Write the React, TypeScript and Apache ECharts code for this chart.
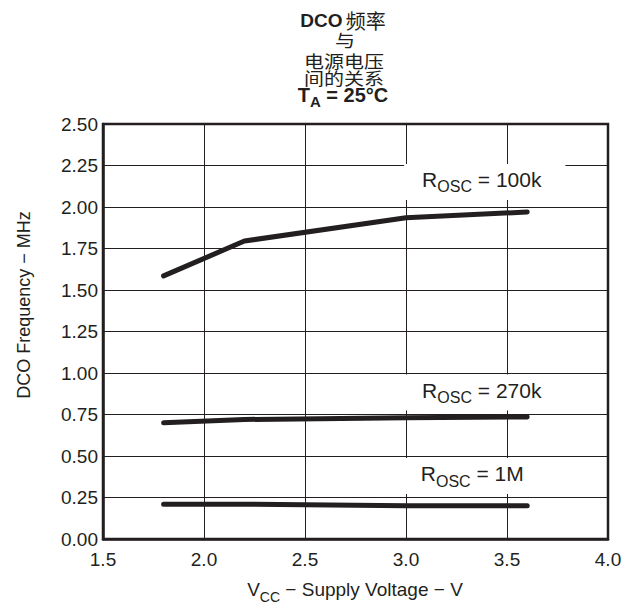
import React, { useEffect, useRef } from "react";
import * as echarts from "echarts";

const xTicks = [1.5, 2.0, 2.5, 3.0, 3.5, 4.0];
const yTicks = [0, 0.25, 0.5, 0.75, 1.0, 1.25, 1.5, 1.75, 2.0, 2.25, 2.5];

const vcc = [1.8, 2.2, 3.0, 3.6];
const freq100k = [1.585, 1.795, 1.935, 1.97];
const freq270k = [0.7, 0.72, 0.73, 0.735];
const freq1M = [0.21, 0.21, 0.2, 0.2];

const seriesNames = ["100k", "270k", "1M"];
const labelAnchors = [
  [3.39, 2.151],
  [3.39, 0.8825],
  [3.39, 0.3795],
];
const labelPaddings = [
  [5, 24, 5, 18],
  [5, 24, 5, 18],
  [5, 43, 5, 18],
];

const INK = "#231f20";
const SANS = "'Liberation Sans', Arial, Helvetica, sans-serif";
const CJK = "'Noto Sans CJK SC', sans-serif";

const richSub = {
  r: { fontSize: 21, lineHeight: 26, verticalAlign: "top", fontFamily: SANS, color: INK },
  s: { fontSize: 16, lineHeight: 16, verticalAlign: "bottom", fontFamily: SANS, color: INK },
};

function makeSeries(name: string, values: number[], anchor: number[], padding: number[]) {
  return {
    type: "line",
    name,
    data: vcc.map((v, i) => [v, values[i]]),
    symbol: "none",
    lineStyle: { color: INK, width: 5, cap: "round", join: "round" },
    z: 3,
    markPoint: {
      symbol: "circle",
      symbolSize: 1,
      itemStyle: { color: "rgba(0,0,0,0)" },
      z: 4,
      data: [
        {
          coord: anchor,
          label: {
            show: true,
            position: "inside",
            formatter: `{r|R}{s|OSC}{r| = ${name}}`,
            backgroundColor: "#ffffff",
            padding,
            rich: richSub,
          },
        },
      ],
    },
  };
}

export default function App() {
  const ref = useRef<HTMLDivElement>(null);
  useEffect(() => {
    if (!ref.current) return;
    const chart = echarts.init(ref.current, null, { renderer: "svg" });
    const seriesData = [freq100k, freq270k, freq1M];
    chart.setOption({
      animation: false,
      backgroundColor: "#ffffff",
      grid: {
        left: 103,
        right: 17,
        top: 124,
        bottom: 66,
        show: true,
        borderColor: INK,
        borderWidth: 2.5,
        backgroundColor: "transparent",
      },
      xAxis: {
        type: "value",
        min: xTicks[0],
        max: xTicks[xTicks.length - 1],
        interval: 0.5,
        axisLine: { show: true, lineStyle: { color: INK, width: 2.5 } },
        axisTick: { show: false },
        axisLabel: {
          fontSize: 19,
          fontFamily: SANS,
          color: INK,
          margin: 11,
          formatter: (v: number) => v.toFixed(1),
        },
        splitLine: { show: true, lineStyle: { color: INK, width: 1 } },
      },
      yAxis: {
        type: "value",
        min: yTicks[0],
        max: yTicks[yTicks.length - 1],
        interval: 0.25,
        axisLine: { show: true, lineStyle: { color: INK, width: 2.5 } },
        axisTick: { show: false },
        axisLabel: {
          fontSize: 19,
          fontFamily: SANS,
          color: INK,
          margin: 5,
          formatter: (v: number) => v.toFixed(2),
        },
        splitLine: { show: true, lineStyle: { color: INK, width: 1 } },
      },
      series: seriesNames.map((n, i) => makeSeries(n, seriesData[i], labelAnchors[i], labelPaddings[i])),
      graphic: [
        {
          type: "text",
          x: 343,
          y: 20,
          style: {
            text: "{b|DCO} {c|频率}",
            align: "center",
            verticalAlign: "middle",
            rich: {
              b: { fontSize: 19, fontWeight: "bold", fontFamily: SANS, fill: INK, color: INK },
              c: { fontSize: 20, fontFamily: CJK, fill: INK, color: INK },
            },
          },
        },
        {
          type: "text",
          x: 345,
          y: 39,
          scaleY: 0.85,
          style: { text: "与", font: `20px ${CJK}`, fill: INK, align: "center", verticalAlign: "middle" },
        },
        {
          type: "text",
          x: 344,
          y: 60,
          scaleY: 0.85,
          style: { text: "电源电压", font: `20px ${CJK}`, fill: INK, align: "center", verticalAlign: "middle" },
        },
        {
          type: "text",
          x: 344,
          y: 77,
          scaleY: 0.85,
          style: { text: "间的关系", font: `20px ${CJK}`, fill: INK, align: "center", verticalAlign: "middle" },
        },
        {
          type: "text",
          x: 343,
          y: 97,
          style: {
            text: "{b|T}{s|A}{b| = 25°C}",
            align: "center",
            verticalAlign: "middle",
            rich: {
              b: { fontSize: 20, lineHeight: 24, verticalAlign: "top", fontWeight: "bold", fontFamily: SANS, fill: INK, color: INK },
              s: { fontSize: 15, lineHeight: 15, verticalAlign: "bottom", fontWeight: "bold", fontFamily: SANS, fill: INK, color: INK },
            },
          },
        },
        {
          type: "text",
          x: 355,
          y: 592,
          style: {
            text: "{r|V}{s|CC}{r| − Supply Voltage − V}",
            align: "center",
            verticalAlign: "middle",
            rich: {
              r: { fontSize: 19, lineHeight: 24, verticalAlign: "top", fontFamily: SANS, fill: INK, color: INK },
              s: { fontSize: 14, lineHeight: 14, verticalAlign: "bottom", fontFamily: SANS, fill: INK, color: INK },
            },
          },
        },
        {
          type: "text",
          x: 24,
          y: 305,
          rotation: Math.PI / 2,
          style: {
            text: "DCO Frequency − MHz",
            font: `18px ${SANS}`,
            fill: INK,
            align: "center",
            verticalAlign: "middle",
          },
        },
      ],
    });
    return () => chart.dispose();
  }, []);
  return <div ref={ref} style={{ width: 625, height: 605, position: "absolute", left: 0, top: 0 }} />;
}
